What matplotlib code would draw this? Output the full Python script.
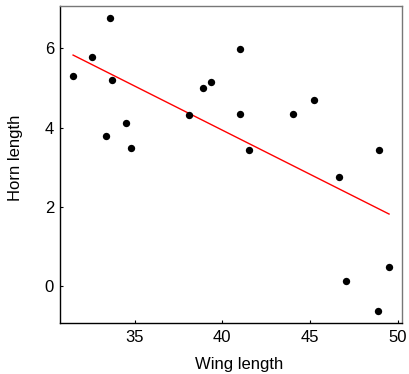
import numpy as np
import matplotlib
matplotlib.use("Agg")
import matplotlib.pyplot as plt

plt.rcParams['font.family'] = ['Liberation Sans', 'DejaVu Sans']

wing = [31.5, 32.6, 33.6, 33.7, 33.35, 34.5, 34.8, 38.1, 38.9, 39.35,
        41.0, 41.0, 41.5, 44.05, 45.2, 46.65, 48.9, 47.05, 49.5, 48.85]
horn = [5.30, 5.77, 6.77, 5.19, 3.79, 4.11, 3.48, 4.31, 4.99, 5.15,
        5.97, 4.34, 3.43, 4.34, 4.69, 2.75, 3.43, 0.12, 0.47, -0.63]

xticks = [35, 40, 45, 50]
yticks = [0, 2, 4, 6]

fig = plt.figure(figsize=(4.1, 3.74), dpi=100)
ax = fig.add_axes([0.147, 0.1356, 0.834, 0.8476])

ax.scatter(wing, horn, s=28, color='black', zorder=3, linewidths=0)
slope, intercept = np.polyfit(wing, horn, 1)
xs = np.array([min(wing), max(wing)])
ax.plot(xs, slope * xs + intercept, color='red', lw=1)

ax.set_xlim(30.77, 50.25)
ax.set_ylim(-0.94, 7.06)
ax.set_xticks(xticks)
ax.set_yticks(yticks)
ax.tick_params(direction='in', length=2, width=0.8, labelsize=12)
ax.tick_params(axis='x', pad=4.5)
ax.tick_params(axis='y', pad=4.5)
for s in ['left', 'bottom']:
    ax.spines[s].set_color('black')
    ax.spines[s].set_linewidth(1)
for s in ['top', 'right']:
    ax.spines[s].set_color('#777777')
    ax.spines[s].set_linewidth(1)

fig.text(239 / 410, (374 - 369.5) / 374, 'Wing length', fontsize=12,
         ha='center', va='baseline')
fig.text(15.5 / 410, (374 - 158.3) / 374, 'Horn length', fontsize=12,
         ha='center', va='center', rotation=90, rotation_mode='anchor')

fig.savefig('out.png', dpi=100)
